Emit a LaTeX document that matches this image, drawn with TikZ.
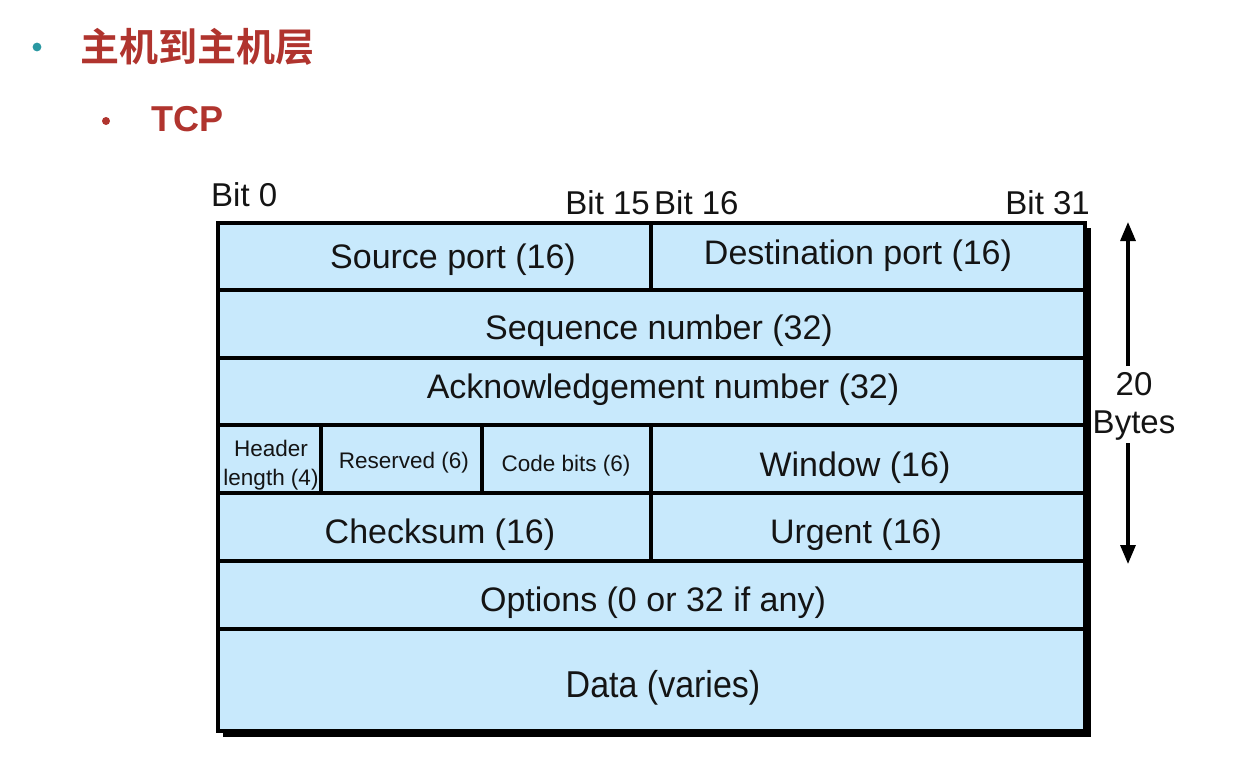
\documentclass[tikz,border=0pt]{standalone}
\usepackage{fontspec}
\setmainfont{Liberation Sans}
\newfontfamily\cjk{Noto Sans CJK SC}[BoldFont=* Bold]
\usetikzlibrary{arrows.meta}
\definecolor{cellblue}{RGB}{200,233,252}
\definecolor{titlered}{RGB}{176,52,46}
\definecolor{dotteal}{RGB}{42,152,162}
\definecolor{ink}{RGB}{20,20,20}
\begin{document}
\begin{tikzpicture}[x=1pt,y=-1pt,
  cell/.style={fill=cellblue,draw=black,line width=4.5pt},
  big/.style={text=ink,inner sep=0pt,font=\fontsize{34}{38}\selectfont},
  small/.style={text=ink,inner sep=0pt,font=\fontsize{22.5}{29}\selectfont},
  bitlbl/.style={text=ink,inner sep=0pt,font=\fontsize{33}{38}\selectfont},
  span/.style={line width=3.2pt,-{Triangle[width=15pt,length=19pt]}}]
\useasboundingbox (0,0) rectangle (1237,766);

% heading lines
\fill[dotteal] (37,47) circle (4.4);
\node[inner sep=0pt,text=titlered,anchor=west,font=\cjk\bfseries\fontsize{39}{43}\selectfont] (title) at (80,47) {主机到主机层};
\fill[titlered] (106,121) circle (4);
\node[inner sep=0pt,text=titlered,anchor=west,font=\bfseries\fontsize{36}{40}\selectfont] (proto) at (151,119) {TCP};

% drop shadow behind the header block
\fill[black] (223,228) rectangle (1091,737);

% rows and fields
\path[cell] (218,223) rectangle (651,290);
\path[cell] (651,223) rectangle (1085,290);
\path[cell] (218,290) rectangle (1085,358);
\path[cell] (218,358) rectangle (1085,425);
\path[cell] (218,425) rectangle (321,493);
\path[cell] (321,425) rectangle (482,493);
\path[cell] (482,425) rectangle (651,493);
\path[cell] (651,425) rectangle (1085,493);
\path[cell] (218,493) rectangle (651,561);
\path[cell] (651,493) rectangle (1085,561);
\path[cell] (218,561) rectangle (1085,629);
\path[cell] (218,629) rectangle (1085,731);

% field names
\node[big] (srcport) at (453,260) {Source port (16)};
\node[big] (dstport) at (858,256) {Destination port (16)};
\node[big] (seq) at (659,331) {Sequence number (32)};
\node[big] (ack) at (663,390) {Acknowledgement number (32)};
\node[small,align=center] (hlen) at (271,465) {Header\\length (4)};
\node[small] (resv) at (404,463) {Reserved (6)};
\node[small] (code) at (566,466) {Code bits (6)};
\node[big] (win) at (855,468) {Window (16)};
\node[big] (csum) at (440,535) {Checksum (16)};
\node[big] (urg) at (856,535) {Urgent (16)};
\node[big] (opt) at (653,603) {Options (0 or 32 if any)};
\node[big,yscale=1.1] (data) at (663,688) {Data (varies)};

% bit positions
\node[bitlbl,anchor=west] (bit0) at (211,195) {Bit 0};
\node[bitlbl,anchor=east] (bit15) at (650,203) {Bit 15};
\node[bitlbl,anchor=west] (bit16) at (654,203) {Bit 16};
\node[bitlbl,anchor=east] (bit31) at (1090,203) {Bit 31};

% fixed header length
\node[bitlbl,align=center] (hdrsize) at (1134,406) {20\\Bytes};
\coordinate (spantop) at (1128,222);
\coordinate (spanbot) at (1128,564);
\draw[span] (1128,366) -- (spantop);
\draw[span] (1128,443) -- (spanbot);
\end{tikzpicture}
\end{document}
